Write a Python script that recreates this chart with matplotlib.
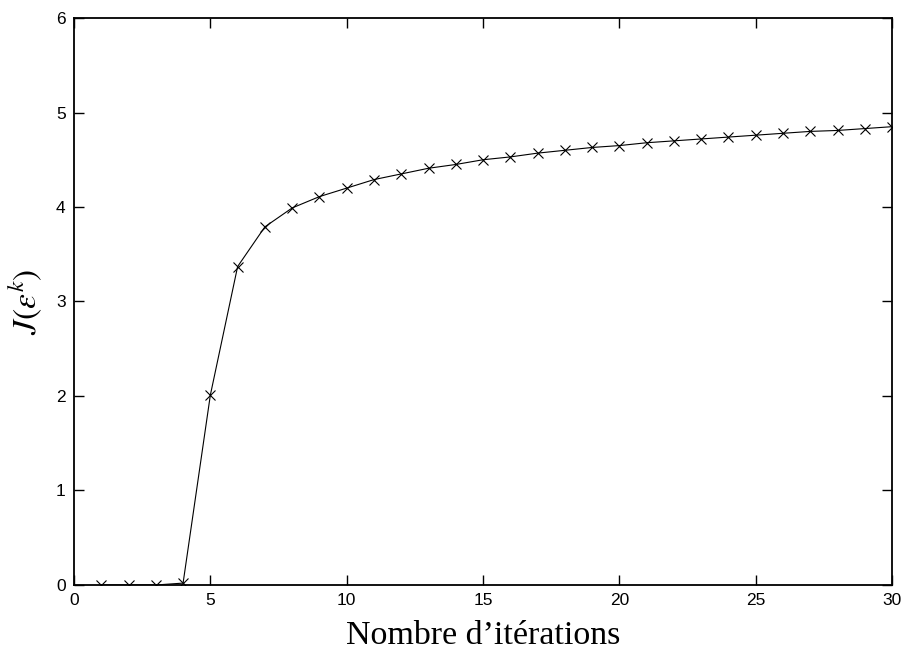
import numpy as np
import matplotlib
matplotlib.use("Agg")
import matplotlib.pyplot as plt

# Valeurs du critère J à chaque itération
iterations = list(range(1, 31))
valeurs_j = [0.0, 0.0, 0.0, 0.02, 2.01, 3.37, 3.79, 3.99, 4.11, 4.20,
             4.29, 4.35, 4.41, 4.45, 4.50, 4.53, 4.57, 4.60, 4.63, 4.65,
             4.68, 4.70, 4.72, 4.74, 4.76, 4.78, 4.80, 4.81, 4.83, 4.85]

xticks = [0, 5, 10, 15, 20, 25, 30]
yticks = [0, 1, 2, 3, 4, 5, 6]

plt.rcParams['mathtext.fontset'] = 'stix'

fig = plt.figure(figsize=(9.08, 6.57), dpi=100)
ax = fig.add_axes([0.0815, 0.1096, 0.901, 0.863])

ax.plot(iterations, valeurs_j, color='black', linewidth=0.8,
        marker='x', markersize=6.5, markeredgewidth=0.8)

ax.set_xlim(0, 30)
ax.set_ylim(0, 6)
ax.set_xticks(xticks)
ax.set_yticks(yticks)

# Graduations vers l'intérieur sur les quatre côtés
ax.tick_params(direction='in', length=7, width=1.0, top=True, right=True,
               labelsize=12.5, pad=6)
for lab in ax.get_xticklabels() + ax.get_yticklabels():
    lab.set_family('Liberation Sans')
for sp in ax.spines.values():
    sp.set_linewidth(1.3)

ax.set_xlabel("Nombre d\u2019itérations", fontsize=24.5, family='Liberation Serif',
              labelpad=9)
ax.set_ylabel(r"$J(\varepsilon^k)$", fontsize=24, labelpad=8)

plt.savefig('out.png', dpi=100)
